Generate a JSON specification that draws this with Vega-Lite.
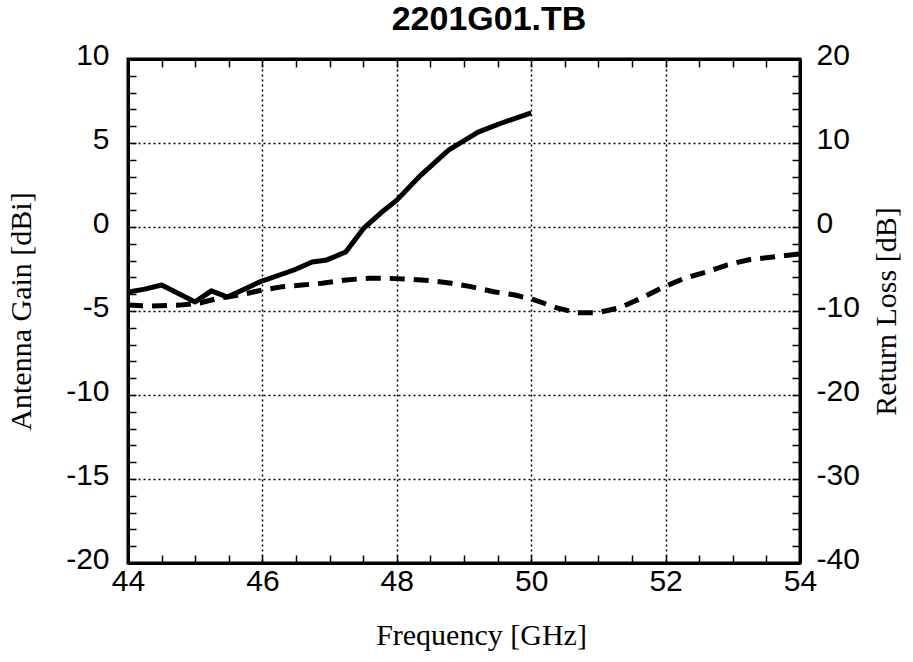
{
  "$schema": "https://vega.github.io/schema/vega-lite/v6.json",
  "autosize": {"type": "none"},
  "width": 672,
  "height": 504,
  "padding": {"left": 128, "top": 59, "right": 113, "bottom": 99},
  "background": "white",
  "config": {
    "view": {"stroke": "black", "strokeWidth": 3},
    "axis": {
      "domainColor": "black", "domainWidth": 3,
      "tickColor": "black", "tickWidth": 1.5, "tickSize": -8,
      "labelFont": "Liberation Sans", "labelFontSize": 30, "labelColor": "black",
      "titleFont": "Liberation Serif", "titleFontSize": 30, "titleFontWeight": "normal", "titleColor": "black"
    }
  },
  "title": {"text": "2201G01.TB", "font": "Liberation Sans", "fontSize": 34, "fontWeight": "bold", "color": "black", "dx": 25, "offset": 3},
  "datasets": {
    "gain": [
      {"f": 44.0, "v": -3.87}, {"f": 44.25, "v": -3.7}, {"f": 44.5, "v": -3.45},
      {"f": 45.0, "v": -4.46}, {"f": 45.24, "v": -3.8}, {"f": 45.48, "v": -4.17},
      {"f": 45.96, "v": -3.27}, {"f": 46.47, "v": -2.56}, {"f": 46.74, "v": -2.08},
      {"f": 46.96, "v": -1.96}, {"f": 47.24, "v": -1.49}, {"f": 47.51, "v": -0.06},
      {"f": 47.76, "v": 0.83}, {"f": 48.0, "v": 1.6}, {"f": 48.33, "v": 2.98},
      {"f": 48.77, "v": 4.58}, {"f": 49.21, "v": 5.65}, {"f": 49.56, "v": 6.19},
      {"f": 50.0, "v": 6.79}
    ],
    "rl": [
      {"f": 44.0, "v": -9.3}, {"f": 44.33, "v": -9.4}, {"f": 44.77, "v": -9.3},
      {"f": 45.07, "v": -9.05}, {"f": 45.36, "v": -8.45}, {"f": 45.66, "v": -8.1},
      {"f": 46.0, "v": -7.5}, {"f": 46.3, "v": -7.1}, {"f": 46.59, "v": -6.9},
      {"f": 46.89, "v": -6.7}, {"f": 47.24, "v": -6.3}, {"f": 47.59, "v": -6.1},
      {"f": 47.84, "v": -6.1}, {"f": 48.18, "v": -6.2}, {"f": 48.52, "v": -6.4},
      {"f": 48.81, "v": -6.7}, {"f": 49.1, "v": -7.1}, {"f": 49.44, "v": -7.7},
      {"f": 49.76, "v": -8.1}, {"f": 50.06, "v": -8.7}, {"f": 50.37, "v": -9.6},
      {"f": 50.67, "v": -10.2}, {"f": 50.99, "v": -10.2}, {"f": 51.32, "v": -9.6},
      {"f": 51.63, "v": -8.5}, {"f": 51.93, "v": -7.3}, {"f": 52.28, "v": -6.1},
      {"f": 52.59, "v": -5.4}, {"f": 52.92, "v": -4.5}, {"f": 53.24, "v": -3.9},
      {"f": 53.56, "v": -3.6}, {"f": 54.0, "v": -3.2}
    ]
  },
  "layer": [
    {
      "data": {"name": "gain"},
      "mark": {"type": "line", "color": "black", "strokeWidth": 5, "strokeJoin": "round", "strokeCap": "butt", "clip": true},
      "encoding": {
        "x": {
          "field": "f", "type": "quantitative",
          "scale": {"domain": [44, 54], "nice": false, "zero": false},
          "axis": {
            "orient": "bottom", "title": "Frequency [GHz]", "titlePadding": 24, "titleX": 353,
            "values": [44, 44.5, 45, 45.5, 46, 46.5, 47, 47.5, 48, 48.5, 49, 49.5, 50, 50.5, 51, 51.5, 52, 52.5, 53, 53.5, 54],
            "labelExpr": "datum.value % 2 === 0 ? datum.value : ''",
            "labelPadding": 11, "labelFlush": false, "labelOverlap": false,
            "grid": true, "gridColor": "black", "gridDash": [2, 3], "gridWidth": 1.5,
            "gridOpacity": {"condition": {"test": "datum.value % 2 === 0", "value": 1}, "value": 0}
          }
        },
        "y": {
          "field": "v", "type": "quantitative",
          "scale": {"domain": [-20, 10], "nice": false, "zero": false},
          "axis": {
            "orient": "left", "title": "Antenna Gain [dBi]", "titlePadding": 29,
            "values": [-20, -19, -18, -17, -16, -15, -14, -13, -12, -11, -10, -9, -8, -7, -6, -5, -4, -3, -2, -1, 0, 1, 2, 3, 4, 5, 6, 7, 8, 9, 10],
            "labelExpr": "datum.value % 5 === 0 ? datum.value : ''",
            "labelPadding": 27, "labelOffset": -4, "labelFlush": false, "labelOverlap": false,
            "grid": true, "gridColor": "black", "gridDash": [2, 3], "gridWidth": 1.5,
            "gridOpacity": {"condition": {"test": "datum.value % 5 === 0", "value": 1}, "value": 0}
          }
        }
      }
    },
    {
      "data": {"name": "rl"},
      "mark": {"type": "line", "color": "black", "strokeWidth": 5, "strokeDash": [15, 9], "clip": true},
      "encoding": {
        "x": {
          "field": "f", "type": "quantitative",
          "scale": {"domain": [44, 54], "nice": false, "zero": false},
          "axis": {
            "orient": "top", "title": null, "labels": false, "grid": false,
            "values": [44, 44.5, 45, 45.5, 46, 46.5, 47, 47.5, 48, 48.5, 49, 49.5, 50, 50.5, 51, 51.5, 52, 52.5, 53, 53.5, 54]
          }
        },
        "y": {
          "field": "v", "type": "quantitative",
          "scale": {"domain": [-40, 20], "nice": false, "zero": false},
          "axis": {
            "orient": "right", "title": "Return Loss [dB]", "titleAngle": -90, "titlePadding": 42,
            "values": [-40, -38, -36, -34, -32, -30, -28, -26, -24, -22, -20, -18, -16, -14, -12, -10, -8, -6, -4, -2, 0, 2, 4, 6, 8, 10, 12, 14, 16, 18, 20],
            "labelExpr": "datum.value % 10 === 0 ? datum.value : ''",
            "labelPadding": 24, "labelOffset": -4, "labelFlush": false, "labelOverlap": false, "grid": false
          }
        }
      }
    }
  ],
  "resolve": {"scale": {"y": "independent"}, "axis": {"x": "independent", "y": "independent"}}
}
